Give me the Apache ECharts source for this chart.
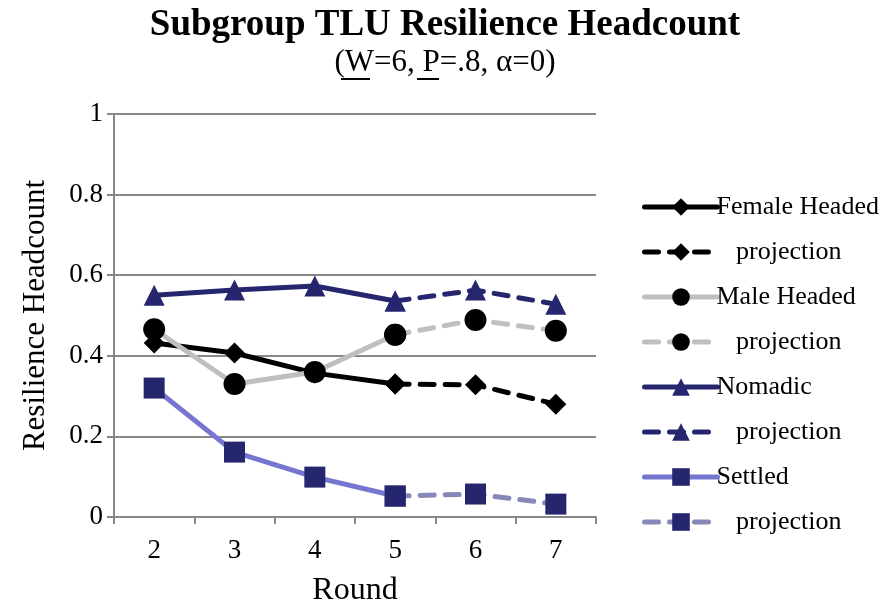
<!DOCTYPE html>
<html>
<head>
<meta charset="utf-8">
<script src="https://cdn.jsdelivr.net/npm/echarts@6/dist/echarts.min.js"></script>
<style>
  html, body { margin: 0; padding: 0; background: #fff; }
  #chart { width: 896px; height: 604px; }
</style>
</head>
<body>
<div id="chart"></div>
<script>
var rounds = ['2', '3', '4', '5', '6', '7'];
var yTicks = [0, 0.2, 0.4, 0.6, 0.8, 1];

// observed rounds 2-5, projection 5-7
var female     = [0.432, 0.407, 0.357, 0.330, null, null];
var femaleProj = [null, null, null, 0.330, 0.328, 0.280];
var male       = [0.466, 0.330, 0.360, 0.452, null, null];
var maleProj   = [null, null, null, 0.452, 0.489, 0.462];
var nomadic    = [0.550, 0.563, 0.573, 0.536, null, null];
var nomadicProj= [null, null, null, 0.536, 0.563, 0.528];
var settled    = [0.320, 0.161, 0.099, 0.052, null, null];
var settledProj= [null, null, null, 0.052, 0.057, 0.032];

var font = '"Liberation Serif", "Times New Roman", serif';
var navy = '#26266f';

function mk(name, data, lineColor, markColor, symbol, size, dashed) {
    return {
        name: name,
        type: 'line',
        data: data,
        symbol: symbol,
        symbolSize: size,
        showAllSymbol: true,
        connectNulls: false,
        lineStyle: {
            color: lineColor,
            width: 5,
            type: dashed ? [14, 11] : 'solid',
            cap: 'round'
        },
        itemStyle: { color: markColor },
        emphasis: { disabled: true },
        z: dashed ? 2 : 3
    };
}

var myChart = echarts.init(document.getElementById('chart'));
var option = {
    animation: false,
    backgroundColor: '#fff',
    title: {
        text: 'Subgroup TLU Resilience Headcount',
        subtext: '(W=6, P=.8, α=0)',
        left: 440,
        textAlign: 'center',
        top: 2,
        itemGap: 3,
        textStyle: { fontFamily: font, fontSize: 37, fontWeight: 'bold', color: '#000' },
        subtextStyle: { fontFamily: font, fontSize: 31, color: '#000' }
    },
    graphic: [
        { type: 'line', shape: { x1: 341, y1: 79, x2: 370, y2: 79 }, style: { stroke: '#000', lineWidth: 2 } },
        { type: 'line', shape: { x1: 417, y1: 79, x2: 439, y2: 79 }, style: { stroke: '#000', lineWidth: 2 } }
    ],
    legend: {
        orient: 'vertical',
        left: 637,
        top: 189,
        itemWidth: 73,
        itemHeight: 22,
        itemGap: 19,
        lineStyle: { width: 5, cap: 'round' },
        textStyle: { fontFamily: font, fontSize: 26, color: '#000', padding: [0, 0, 0, -6] },
        formatter: function (n) { return n.indexOf('proj') >= 0 ? '   projection' : n; },
        data: ['Female Headed', 'Female proj', 'Male Headed', 'Male proj',
               'Nomadic', 'Nomadic proj', 'Settled', 'Settled proj']
    },
    grid: { left: 114, top: 114, right: 300, bottom: 87, outerBoundsMode: 'none' },
    xAxis: {
        type: 'category',
        data: rounds,
        boundaryGap: true,
        name: 'Round',
        nameLocation: 'middle',
        nameGap: 58,
        nameTextStyle: { fontFamily: font, fontSize: 32, color: '#000' },
        axisLine: { lineStyle: { color: '#888', width: 2 } },
        axisTick: { show: true, length: 7, lineStyle: { color: '#888', width: 2 } },
        axisLabel: { fontFamily: font, fontSize: 27, color: '#000', margin: 20 },
        splitLine: { show: false }
    },
    yAxis: {
        type: 'value',
        min: yTicks[0],
        max: yTicks[yTicks.length - 1],
        interval: 0.2,
        name: 'Resilience Headcount',
        nameLocation: 'middle',
        nameGap: 63,
        nameTextStyle: { fontFamily: font, fontSize: 31, color: '#000' },
        axisLine: { show: true, lineStyle: { color: '#888', width: 2 } },
        axisTick: { show: true, length: 7, lineStyle: { color: '#888', width: 2 } },
        axisLabel: { fontFamily: font, fontSize: 27, color: '#000', margin: 11 },
        splitLine: { show: true, lineStyle: { color: '#888', width: 2 } }
    },
    series: [
        mk('Female Headed', female, '#000', '#000', 'diamond', 21, false),
        mk('Female proj', femaleProj, '#000', '#000', 'diamond', 21, true),
        mk('Male Headed', male, '#bfbfbf', '#000', 'circle', 22, false),
        mk('Male proj', maleProj, '#bfbfbf', '#000', 'circle', 22, true),
        mk('Nomadic', nomadic, navy, navy, 'triangle', 21, false),
        mk('Nomadic proj', nomadicProj, navy, navy, 'triangle', 21, true),
        mk('Settled', settled, '#7676d0', navy, 'rect', 21, false),
        mk('Settled proj', settledProj, '#8787b8', navy, 'rect', 21, true)
    ]
};
myChart.setOption(option);
</script>
</body>
</html>
